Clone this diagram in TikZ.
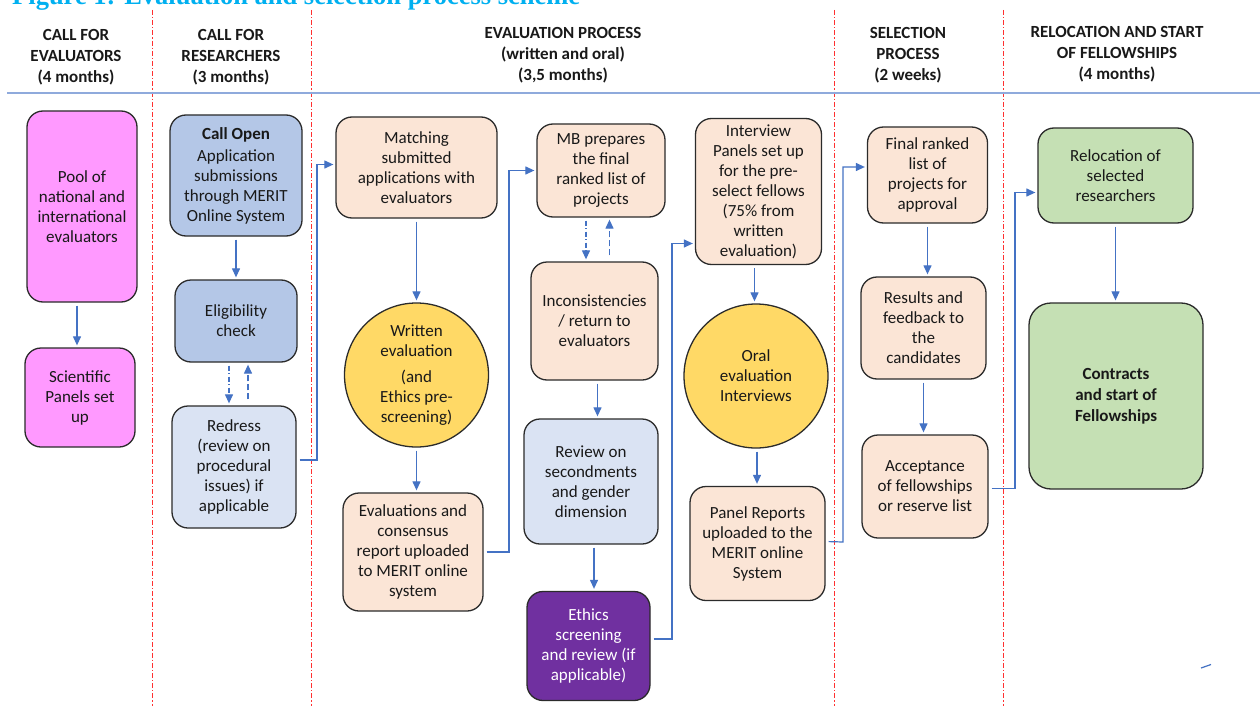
\documentclass[tikz,border=0pt]{standalone}
\usepackage{fontspec}
\setmainfont{Carlito}
\newfontfamily\titlefont{Liberation Serif}
\usetikzlibrary{arrows.meta,calc,shapes.geometric}
\definecolor{pinkf}{HTML}{FF99FF}
\definecolor{bluef}{HTML}{B4C7E7}
\definecolor{lbluef}{HTML}{DAE3F3}
\definecolor{peachf}{HTML}{FBE5D6}
\definecolor{goldf}{HTML}{FFD966}
\definecolor{purplef}{HTML}{7030A0}
\definecolor{greenf}{HTML}{C5E0B4}
\definecolor{connc}{HTML}{4472C4}
\definecolor{borderc}{HTML}{2B2B2B}
\definecolor{hlinec}{HTML}{8FAADC}
\definecolor{titlec}{HTML}{00B0F0}
\definecolor{redl}{HTML}{FF3030}
\tikzset{
  x=1pt,y=-1pt,
  boxst/.style={draw=borderc, line width=1.3pt, rounded corners=16pt, align=center,
    inner sep=0pt, font=\fontsize{17}{20}\selectfont, text=black!90},
  circst/.style={draw=borderc, line width=1.3pt, circle, align=center, inner sep=0pt,
    fill=goldf, font=\fontsize{17}{20}\selectfont, text=black!90, minimum size=144pt},
  headst/.style={align=center, font=\bfseries\fontsize{17}{21}\selectfont, text=black!90},
  conn/.style={draw=connc, line width=1.2pt, -{Triangle[length=9pt,width=8pt]},
    shorten <=3pt, shorten >=2pt},
  dashd/.style={dash pattern=on 5pt off 2.5pt on 1pt off 2.5pt},
  dashu/.style={dash pattern=on 6pt off 3pt},
  sepline/.style={draw=redl, line width=1pt, dash pattern=on 5pt off 2pt on 1.2pt off 2pt},
}
\begin{document}
\begin{tikzpicture}
\useasboundingbox (0,0) rectangle (1260,706);
\clip (0,0) rectangle (1260,706);
\fill[white] (0,0) rectangle (1260,706);

% title (cut off at top, as in the reference)
\node[anchor=base west, inner sep=0pt, text=titlec, font=\titlefont\bfseries\fontsize{26.5}{30}\selectfont] (title) at (12,5) {Figure 1: Evaluation and selection process scheme};

% column separators
\coordinate (s1t) at (152,10); \coordinate (s1b) at (152,706);
\coordinate (s2t) at (311,10); \coordinate (s2b) at (311,706);
\coordinate (s3t) at (834,10); \coordinate (s3b) at (834,706);
\coordinate (s4t) at (1003,10); \coordinate (s4b) at (1003,706);
\draw[sepline] (s1t) -- (s1b);
\draw[sepline] (s2t) -- (s2b);
\draw[sepline] (s3t) -- (s3b);
\draw[sepline] (s4t) -- (s4b);

% header line
\coordinate (hl) at (7,93); \coordinate (hr) at (1260,93);
\draw[draw=hlinec, line width=2pt] (hl) -- (hr);

% headers
\node[headst] (h1) at (76,57) {CALL FOR\\EVALUATORS\\(4 months)};
\node[headst] (h2) at (231,57) {CALL FOR\\RESEARCHERS\\(3 months)};
\node[headst] (h3) at (563,55) {EVALUATION PROCESS\\(written and oral)\\(3,5 months)};
\node[headst] (h4) at (908,55) {SELECTION\\PROCESS\\(2 weeks)};
\node[headst] (h5) at (1117,54) {RELOCATION AND START\\OF FELLOWSHIPS\\(4 months)};

% column 1
\node[boxst, fill=pinkf, minimum width=110pt, minimum height=191pt] (pool) at (82,206.5) {Pool of\\national and\\international\\evaluators};
\node[boxst, fill=pinkf, minimum width=110pt, minimum height=99pt] (sci) at (80,397.5) {Scientific\\Panels set\\up};

% column 2
\node[boxst, fill=bluef, minimum width=132pt, minimum height=121pt] (callopen) at (236,175.5) {\textbf{Call Open}\\[2pt]Application\\submissions\\through MERIT\\Online System};
\node[boxst, fill=bluef, minimum width=122pt, minimum height=82pt] (elig) at (236,321) {Eligibility\\check};
\node[boxst, fill=lbluef, minimum width=124pt, minimum height=122pt] (redress) at (234,467) {Redress\\(review on\\procedural\\issues) if\\applicable};

% column 3
\node[boxst, fill=peachf, minimum width=161pt, minimum height=101pt] (match) at (416.5,167.5) {Matching\\submitted\\applications with\\evaluators};
\node[circst] (written) at (416.5,375) {Written\\evaluation\\[6pt](and\\Ethics pre-\\screening)};
\node[boxst, fill=peachf, minimum width=140pt, minimum height=118pt] (evals) at (413,552) {Evaluations and\\consensus\\report uploaded\\to MERIT online\\system};

\node[boxst, fill=peachf, minimum width=128pt, minimum height=93pt] (mb) at (601,170.5) {MB prepares\\the final\\ranked list of\\projects};
\node[boxst, fill=peachf, minimum width=127pt, minimum height=118pt] (incons) at (594.5,321) {Inconsistencies\\/ return to\\evaluators};
\node[boxst, fill=lbluef, minimum width=134pt, minimum height=125pt] (review) at (591,481.5) {Review on\\secondments\\and gender\\dimension};
\node[boxst, fill=purplef, text=white, minimum width=123pt, minimum height=109pt] (ethics) at (588.5,646) {Ethics\\screening\\and review (if\\applicable)};

\node[boxst, fill=peachf, minimum width=126pt, minimum height=146pt] (interview) at (758.5,191.5) {Interview\\Panels set up\\for the pre-\\select fellows\\(75\% from\\written\\evaluation)};
\node[circst] (oral) at (756,376) {Oral\\evaluation\\Interviews};
\node[boxst, fill=peachf, minimum width=135pt, minimum height=114pt] (panel) at (757.5,543.5) {Panel Reports\\uploaded to the\\MERIT online\\System};

% column 4
\node[boxst, fill=peachf, minimum width=120pt, minimum height=96pt] (final) at (927.5,175) {Final ranked\\list of\\projects for\\approval};
\node[boxst, fill=peachf, minimum width=125pt, minimum height=102pt] (results) at (923.5,328) {Results and\\feedback to\\the\\candidates};
\node[boxst, fill=peachf, minimum width=126pt, minimum height=103pt] (accept) at (925,486.5) {Acceptance\\of fellowships\\or reserve list};

% column 5
\node[boxst, fill=greenf, minimum width=155pt, minimum height=95pt] (reloc) at (1115.5,175.5) {Relocation of\\selected\\researchers};
\node[boxst, fill=greenf, rounded corners=22pt, minimum width=174pt, minimum height=186pt, font=\bfseries\fontsize{17}{21}\selectfont] (contracts) at (1116,396) {Contracts\\and start of\\Fellowships};

% connector anchor points
\coordinate (a1) at ($(pool.south)+(-5,0)$);
\coordinate (a2) at ($(elig.south)+(-7,0)$);
\coordinate (a3) at ($(redress.north)+(14,-3)$);
\coordinate (a4) at ($(redress.east)+(0,-7)$);
\coordinate (a4b) at (317,460);
\coordinate (a4t) at ($(match.west)+(0,-3)$);
\coordinate (a5) at ($(mb.south)+(-15,0)$);
\coordinate (a6) at ($(incons.north)+(15,-3)$);
\coordinate (a7) at ($(incons.south)+(3,0)$);
\coordinate (a8) at ($(review.south)+(3,0)$);
\coordinate (a9) at ($(ethics.east)+(0,-7)$);
\coordinate (a9b) at (672,639);
\coordinate (a9t) at ($(interview.west)+(0,52)$);
\coordinate (a10) at ($(interview.south)+(-4,0)$);
\coordinate (a11) at ($(oral.south)+(1,0)$);
\coordinate (a12) at ($(panel.east)+(0,-2)$);
\coordinate (a12b) at (843,542);
\coordinate (a12t) at ($(final.west)+(0,-8)$);
\coordinate (a13) at ($(accept.east)+(0,2)$);
\coordinate (a13b) at (1015,488.5);
\coordinate (a13t) at ($(reloc.west)+(0,17)$);
\coordinate (a14) at (509,552);

% connectors
\draw[conn] (a1) -- (a1 |- sci.north);
\draw[conn] (callopen.south) -- (elig.north);
\draw[conn, dashd] (a2) -- (a2 |- redress.north);
\draw[conn, dashu] (a3) -- (a3 |- elig.south);
\draw[conn] (a4) -- (a4b) |- (a4t);
\draw[conn] (match.south) -- (written.north);
\draw[conn] (written.south) -- (written.south |- evals.north);
\draw[conn] (evals.east) -- (a14) |- (mb.west);
\draw[conn, dashd] (a5) -- (a5 |- incons.north);
\draw[conn, dashu] (a6) -- (a6 |- mb.south);
\draw[conn] (a7) -- (a7 |- review.north);
\draw[conn] (a8) -- (a8 |- ethics.north);
\draw[conn] (a9) -- (a9b) |- (a9t);
\draw[conn] (a10) -- (a10 |- oral.north);
\draw[conn] (a11) -- (a11 |- panel.north);
\draw[conn] (a12) -- (a12b) |- (a12t);
\draw[conn] (final.south) -- (final.south |- results.north);
\draw[conn] (results.south) -- (results.south |- accept.north);
\draw[conn] (a13) -- (a13b) |- (a13t);
\draw[conn] (reloc.south) -- (reloc.south |- contracts.north);

% stray mark
\coordinate (m1) at (1201,668); \coordinate (m2) at (1211,664.5);
\draw[draw=connc, line width=1.2pt] (m1) -- (m2);
\end{tikzpicture}
\end{document}
